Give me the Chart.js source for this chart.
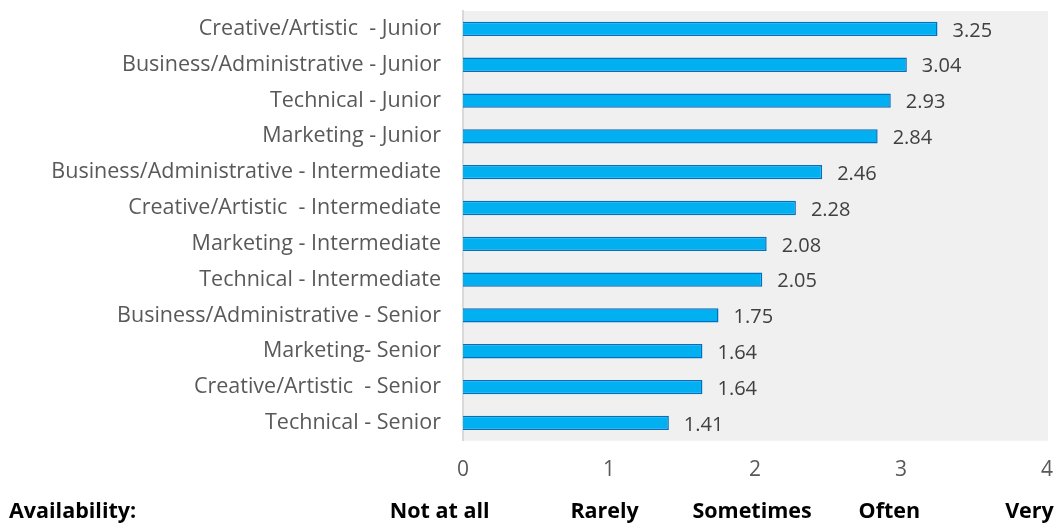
<!DOCTYPE html>
<html>
<head>
<meta charset="utf-8">
<script src="https://cdn.jsdelivr.net/npm/chart.js@4"></script>
<style>
  html, body { margin: 0; padding: 0; background: #ffffff; }
  #wrap { width: 1062px; height: 525px; position: relative; }
</style>
</head>
<body>
<div id="wrap"><canvas id="chart"></canvas></div>
<script>
// categories, top to bottom
var roles = [
    "Creative/Artistic  - Junior",
    "Business/Administrative - Junior",
    "Technical - Junior",
    "Marketing - Junior",
    "Business/Administrative - Intermediate",
    "Creative/Artistic  - Intermediate",
    "Marketing - Intermediate",
    "Technical - Intermediate",
    "Business/Administrative - Senior",
    "Marketing- Senior",
    "Creative/Artistic  - Senior",
    "Technical - Senior"
];
var scores = [3.25, 3.04, 2.93, 2.84, 2.46, 2.28, 2.08, 2.05, 1.75, 1.64, 1.64, 1.41];

// scale legend under the axis
var scaleWords = ["Not at all", "Rarely", "Sometimes", "Often", "Very"];
var scaleWordAt = [-0.16, 0.97, 1.98, 2.92, 3.88];
var scaleTitle = "Availability:";

var FONT = "'Open Sans', 'Noto Sans', sans-serif";

// grey plot area
const plotBg = {
    id: 'plotBg',
    beforeDraw(chart) {
        var a = chart.chartArea, c = chart.ctx;
        c.save();
        c.fillStyle = '#f0f0f0';
        c.fillRect(a.left, a.top, a.right - a.left + 1, a.bottom - a.top);
        c.restore();
    }
};

// value labels at the bar ends
const valueLabels = {
    id: 'valueLabels',
    afterDatasetsDraw(chart) {
        var c = chart.ctx;
        var meta = chart.getDatasetMeta(0);
        c.save();
        c.font = '20px ' + FONT;
        c.fillStyle = '#404040';
        c.textAlign = 'left';
        c.textBaseline = 'middle';
        meta.data.forEach((bar, i) => {
            c.fillText(scores[i].toFixed(2), bar.x + 15, bar.y + 2);
        });
        c.restore();
    }
};

// "Availability:  Not at all ... Very" row
const scaleRow = {
    id: 'scaleRow',
    afterDraw(chart) {
        var c = chart.ctx, xs = chart.scales.x;
        var y = chart.height - 13;
        c.save();
        c.font = 'bold 21.5px ' + FONT;
        c.fillStyle = '#000000';
        c.textBaseline = 'middle';
        c.textAlign = 'left';
        c.fillText(scaleTitle, 9, y);
        c.textAlign = 'center';
        scaleWords.forEach((w, i) => {
            c.fillText(w, xs.getPixelForValue(scaleWordAt[i]), y);
        });
        c.restore();
    }
};

var ctx = document.getElementById('chart').getContext('2d');
var chart = new Chart(ctx, {
    type: 'bar',
    data: {
        labels: roles,
        datasets: [{
            data: scores,
            backgroundColor: '#00b0f0',
            borderColor: '#0070c0',
            borderWidth: 1.5,
            borderSkipped: 'left',
            categoryPercentage: 1.0,
            barPercentage: 0.4
        }]
    },
    options: {
        indexAxis: 'y',
        responsive: true,
        maintainAspectRatio: false,
        animation: false,
        layout: { padding: { top: 11, right: 15, bottom: 25, left: 0 } },
        plugins: {
            legend: { display: false },
            tooltip: { enabled: false }
        },
        scales: {
            x: {
                min: 0,
                max: 4,
                afterFit(scale) {
                    scale.paddingLeft = 0;
                    scale.paddingRight = 0;
                },
                ticks: {
                    stepSize: 1,
                    color: '#595959',
                    font: { family: FONT, size: 21 },
                    padding: 17
                },
                grid: { display: false, drawTicks: false },
                border: { display: false }
            },
            y: {
                afterFit(scale) {
                    scale.width = 463;
                    scale.paddingTop = 0;
                    scale.paddingBottom = 0;
                },
                ticks: {
                    color: '#595959',
                    font: { family: FONT, size: 21.5 },
                    padding: 22,
                    autoSkip: false
                },
                grid: { display: false, drawTicks: false },
                border: { display: true, color: '#d9d9d9', width: 2 }
            }
        }
    },
    plugins: [plotBg, valueLabels, scaleRow]
});
</script>
</body>
</html>
